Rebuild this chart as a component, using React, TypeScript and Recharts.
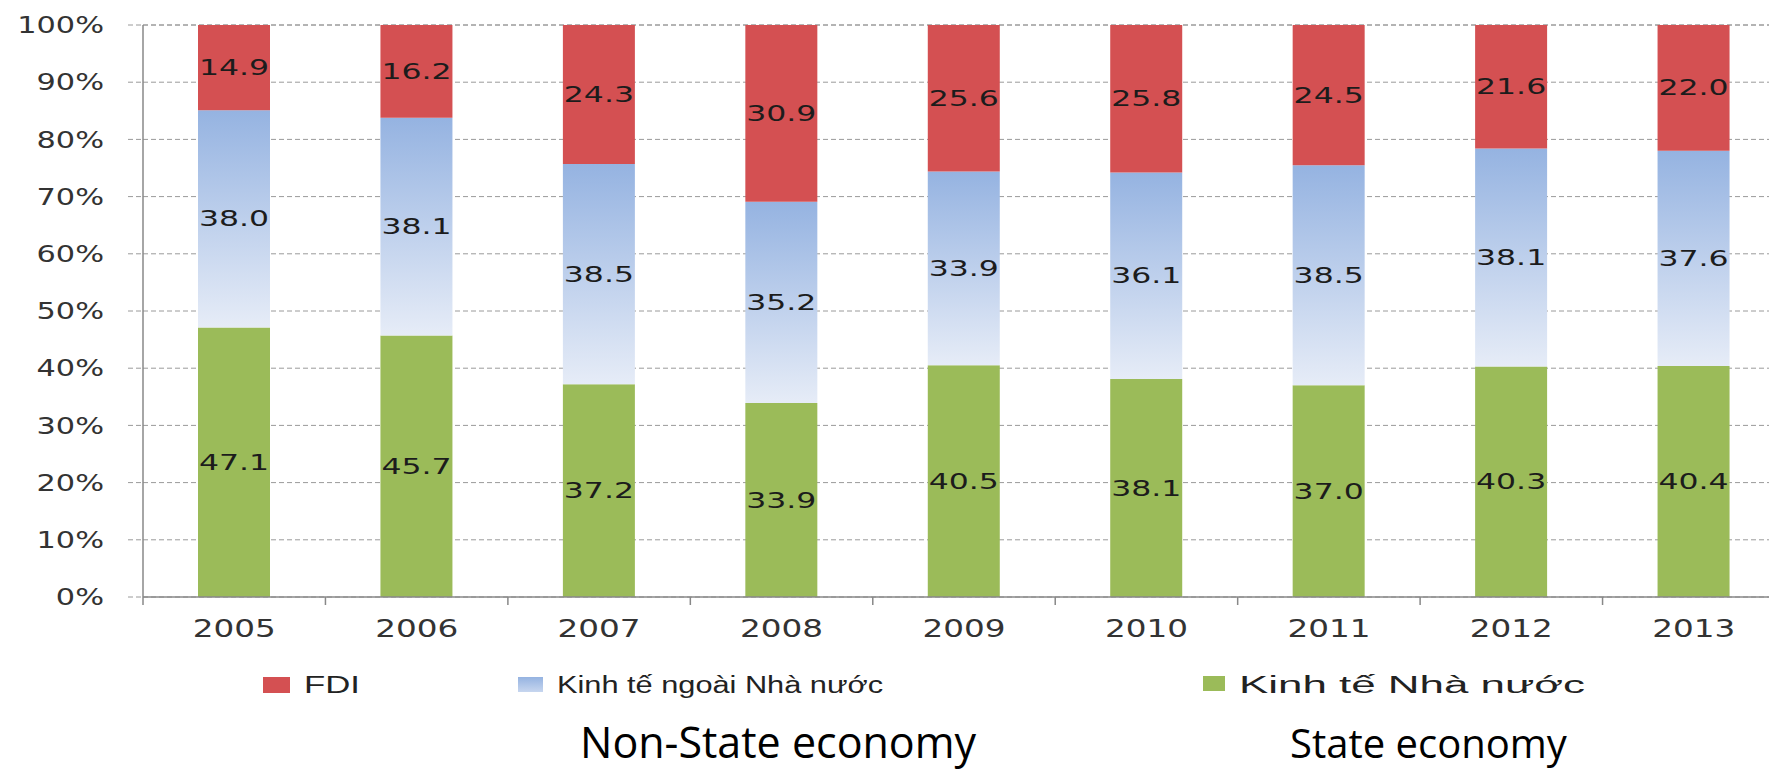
import { BarChart, Bar, XAxis, YAxis, CartesianGrid, LabelList } from 'recharts';

const years = ['2005', '2006', '2007', '2008', '2009', '2010', '2011', '2012', '2013'];
const fdiShare = [14.9, 16.2, 24.3, 30.9, 25.6, 25.8, 24.5, 21.6, 22.0];
const nonStateShare = [38.0, 38.1, 38.5, 35.2, 33.9, 36.1, 38.5, 38.1, 37.6];
const stateShare = [47.1, 45.7, 37.2, 33.9, 40.5, 38.1, 37.0, 40.3, 40.4];
const yTicks = [0, 10, 20, 30, 40, 50, 60, 70, 80, 90, 100];

const RED = '#d45052';
const GREEN = '#9bbb59';
const BLUE_TOP = '#95b3e1';
const BLUE_BOTTOM = '#e6ecf7';

const CHART_W = 1800;
const CHART_H = 774;
const LEFT = 143;
const RIGHT_MARGIN = 15;
const TOP = 25;
const PLOT_BOTTOM = 597;
const X_AXIS_H = 60;
const HALF_STEP = (CHART_W - LEFT - RIGHT_MARGIN) / years.length / 2;

const data = years.map((year, i) => ({
  year,
  fdi: fdiShare[i],
  nonState: nonStateShare[i],
  state: stateShare[i],
}));

function YTick({ x, y, payload }: any) {
  return (
    <text
      transform={`translate(${x}, ${y}) scale(1.32, 1)`}
      textAnchor="end"
      dy="0.36em"
      fontFamily="DejaVu Sans"
      fontSize={23}
      fill="#333"
    >
      {payload.value}%
    </text>
  );
}

function XTick({ x, y, payload }: any) {
  const bx = x - HALF_STEP;
  return (
    <g>
      <line x1={bx} y1={y - 8} x2={bx} y2={y} stroke="#888" strokeWidth={1.5} />
      <text
        transform={`translate(${x}, ${y + 32}) scale(1.36, 1)`}
        textAnchor="middle"
        fontFamily="DejaVu Sans"
        fontSize={24}
        fill="#333"
      >
        {payload.value}
      </text>
    </g>
  );
}

function SegLabel({ x, y, width, height, value }: any) {
  const cx = x + width / 2;
  const cy = y + height / 2;
  return (
    <text
      transform={`translate(${cx}, ${cy}) scale(1.5, 1)`}
      textAnchor="middle"
      dy="0.36em"
      fontFamily="DejaVu Sans"
      fontSize={21}
      fill="#1c1c1c"
    >
      {Number(value).toFixed(1)}
    </text>
  );
}

const legendItems = [
  { name: 'FDI', fill: RED, box: [263, 677, 27, 16], tx: 304, tl: 56 },
  { name: 'Kinh tế ngoài Nhà nước', fill: 'url(#blueLegend)', box: [518, 677, 25, 15], tx: 557, tl: 326 },
  { name: 'Kinh tế Nhà nước', fill: GREEN, box: [1203, 676, 22, 15], tx: 1239, tl: 346 },
];

export default function App() {
  return (
    <div
      style={{
        position: 'absolute',
        left: 0,
        top: 0,
        width: 1769,
        height: CHART_H,
        overflow: 'hidden',
        background: '#fff',
      }}
    >
      <BarChart
        width={CHART_W}
        height={CHART_H}
        data={data}
        barSize={72}
        margin={{ top: TOP, right: RIGHT_MARGIN, left: 0, bottom: CHART_H - PLOT_BOTTOM - X_AXIS_H }}
      >
        <defs>
          <linearGradient id="blueFill" x1="0" y1="0" x2="0" y2="1">
            <stop offset="0%" stopColor={BLUE_TOP} />
            <stop offset="100%" stopColor={BLUE_BOTTOM} />
          </linearGradient>
        </defs>
        <CartesianGrid vertical={false} stroke="#9a9a9a" strokeDasharray="5 3" />
        <XAxis
          dataKey="year"
          height={X_AXIS_H}
          axisLine={{ stroke: '#888', strokeWidth: 1.5 }}
          tickLine={false}
          tick={<XTick />}
          interval={0}
        />
        <YAxis
          width={LEFT}
          domain={[0, 100]}
          ticks={yTicks}
          interval={0}
          axisLine={{ stroke: '#888', strokeWidth: 1.5 }}
          tickLine={{ stroke: '#9a9a9a', strokeDasharray: '5 3' }}
          tickSize={15}
          tickMargin={24}
          tick={<YTick />}
        />
        <Bar dataKey="state" stackId="a" fill={GREEN} isAnimationActive={false}>
          <LabelList dataKey="state" content={<SegLabel />} />
        </Bar>
        <Bar dataKey="nonState" stackId="a" fill="url(#blueFill)" isAnimationActive={false}>
          <LabelList dataKey="nonState" content={<SegLabel />} />
        </Bar>
        <Bar dataKey="fdi" stackId="a" fill={RED} isAnimationActive={false}>
          <LabelList dataKey="fdi" content={<SegLabel />} />
        </Bar>
      </BarChart>

      <svg
        width={1769}
        height={CHART_H}
        style={{ position: 'absolute', left: 0, top: 0, pointerEvents: 'none' }}
      >
        <defs>
          <linearGradient id="blueLegend" x1="0" y1="0" x2="0" y2="1">
            <stop offset="0%" stopColor={BLUE_TOP} />
            <stop offset="100%" stopColor="#c7d6ef" />
          </linearGradient>
        </defs>
        {legendItems.map((it) => (
          <g key={it.name}>
            <rect x={it.box[0]} y={it.box[1]} width={it.box[2]} height={it.box[3]} fill={it.fill} />
            <text
              x={it.tx}
              y={693}
              fontFamily="Liberation Sans, Arial"
              fontSize={23}
              fill="#222"
              textLength={it.tl}
              lengthAdjust="spacingAndGlyphs"
            >
              {it.name}
            </text>
          </g>
        ))}
        <text x={580} y={758} fontFamily="Open Sans" fontSize={43} fill="#000">
          Non-State economy
        </text>
        <text x={1290} y={758} fontFamily="Open Sans" fontSize={40} fill="#000">
          State economy
        </text>
      </svg>
    </div>
  );
}
